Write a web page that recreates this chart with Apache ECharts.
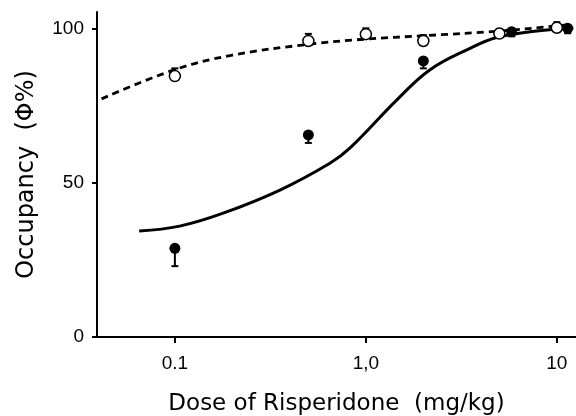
<!DOCTYPE html>
<html>
<head>
<meta charset="utf-8">
<script src="https://cdn.jsdelivr.net/npm/echarts@6/dist/echarts.min.js"></script>
<style>
  html, body { margin: 0; padding: 0; background: #fff; }
  #chart { width: 576px; height: 416px; }
</style>
</head>
<body>
<div id="chart"></div>
<script>
// tick labels on the dose axis (log scale)
const xTickValues = [0.1, 1, 10];
const xTickLabels = ['0.1', '1,0', '10'];
const yTickValues = [0, 50, 100];

// open circles (Φ) - dose, mean occupancy, top of error bar
const openDose = [0.1, 0.5, 1, 2, 5, 10];
const openMean = [84.7, 96.1, 98.3, 96.1, 98.5, 100.4];
const openErrTop = [87.2, 98.4, 100.2, 98.0, 100.0, 102.2];

// filled circles - dose, mean occupancy, bottom of error bar
const filledDose = [0.1, 0.5, 2, 5.8, 11.4];
const filledMean = [28.8, 65.6, 89.6, 99.1, 100.2];
const filledErrLow = [23.0, 63.0, 87.2, 97.6, 98.6];

// dashed fitted curve
const dashDose = [0.0413, 0.1, 0.2, 0.5, 1, 2, 5, 10, 12.1];
const dashVal = [77.3, 86.8, 91.5, 95.0, 96.7, 97.8, 99.3, 101.0, 101.5];

// solid fitted curve
const solidDose = [0.065, 0.106, 0.179, 0.355, 0.648, 0.824, 1.45, 2.16, 3.51, 4.83, 7.23, 12.2];
const solidVal = [34.4, 36.0, 40.2, 47.7, 56.4, 61.3, 76.9, 86.7, 93.7, 97.2, 99.1, 100.2];

let chart = echarts.init(document.getElementById('chart'));

function pairs(xs, ys) {
  return xs.map((x, i) => [x, ys[i]]);
}

// error bar: vertical line from the mean to the end, with a small cap
function errorBar(params, api) {
  let x = api.value(0);
  let p0 = api.coord([x, api.value(1)]);
  let p1 = api.coord([x, api.value(2)]);
  let half = 3.5;
  let st = { stroke: '#000', lineWidth: 2 };
  return {
    type: 'group',
    children: [
      { type: 'line', shape: { x1: p0[0], y1: p0[1], x2: p1[0], y2: p1[1] }, style: st },
      { type: 'line', shape: { x1: p1[0] - half, y1: p1[1], x2: p1[0] + half, y2: p1[1] }, style: st }
    ]
  };
}

let sansFont = "'Liberation Sans', Arial, 'DejaVu Sans', sans-serif";

let option = {
  backgroundColor: '#fff',
  animation: false,
  grid: { left: 97, right: 0, top: 12, bottom: 79, outerBoundsMode: 'none' },
  xAxis: {
    type: 'log',
    logBase: 10,
    min: 0.0391,
    max: 12.6,
    name: 'Dose of Risperidone  (mg/kg)',
    nameLocation: 'middle',
    nameGap: 56,
    nameTextStyle: { fontFamily: 'DejaVu Sans', fontSize: 23, color: '#000' },
    axisLine: { lineStyle: { color: '#000', width: 2 } },
    axisTick: { customValues: xTickValues, length: 6, lineStyle: { color: '#000', width: 2 } },
    axisLabel: {
      customValues: xTickValues,
      margin: 17,
      fontFamily: sansFont,
      fontSize: 19,
      color: '#000',
      formatter: function (v) {
        let best = 0;
        for (let i = 0; i < xTickValues.length; i++) {
          if (Math.abs(Math.log10(v) - Math.log10(xTickValues[i])) < Math.abs(Math.log10(v) - Math.log10(xTickValues[best]))) best = i;
        }
        return xTickLabels[best];
      }
    },
    splitLine: { show: false },
    minorTick: { show: false }
  },
  yAxis: {
    type: 'value',
    min: 0,
    max: 105.5,
    name: 'Occupancy  (Φ%)',
    nameLocation: 'middle',
    nameGap: 58,
    nameTextStyle: { fontFamily: 'DejaVu Sans', fontSize: 24, color: '#000' },
    axisLine: { show: true, lineStyle: { color: '#000', width: 2 } },
    axisTick: { show: true, customValues: yTickValues, length: 5, lineStyle: { color: '#000', width: 2 } },
    axisLabel: {
      customValues: yTickValues,
      margin: 13,
      fontFamily: sansFont,
      fontSize: 19,
      color: '#000'
    },
    splitLine: { show: false }
  },
  series: [
    {
      name: 'fit open',
      type: 'line',
      smooth: 0.4,
      symbol: 'none',
      data: pairs(dashDose, dashVal),
      lineStyle: { color: '#000', width: 2.8, type: [7, 5] },
      z: 2
    },
    {
      name: 'fit filled',
      type: 'line',
      smooth: 0.4,
      symbol: 'none',
      data: pairs(solidDose, solidVal),
      lineStyle: { color: '#000', width: 3 },
      z: 2
    },
    {
      name: 'open err',
      type: 'custom',
      renderItem: errorBar,
      encode: { x: 0, y: [1, 2] },
      data: openDose.map((d, i) => [d, openMean[i], openErrTop[i]]),
      z: 3
    },
    {
      name: 'filled err',
      type: 'custom',
      renderItem: errorBar,
      encode: { x: 0, y: [1, 2] },
      data: filledDose.map((d, i) => [d, filledMean[i], filledErrLow[i]]),
      z: 3
    },
    {
      name: 'open',
      type: 'scatter',
      symbol: 'circle',
      symbolSize: 11,
      data: pairs(openDose, openMean),
      itemStyle: { color: '#fff', borderColor: '#000', borderWidth: 1.5, opacity: 1 },
      z: 4
    },
    {
      name: 'filled',
      type: 'scatter',
      symbol: 'circle',
      symbolSize: 11,
      data: pairs(filledDose, filledMean),
      itemStyle: { color: '#000', opacity: 1 },
      z: 4
    }
  ]
};

chart.setOption(option);
</script>
</body>
</html>
